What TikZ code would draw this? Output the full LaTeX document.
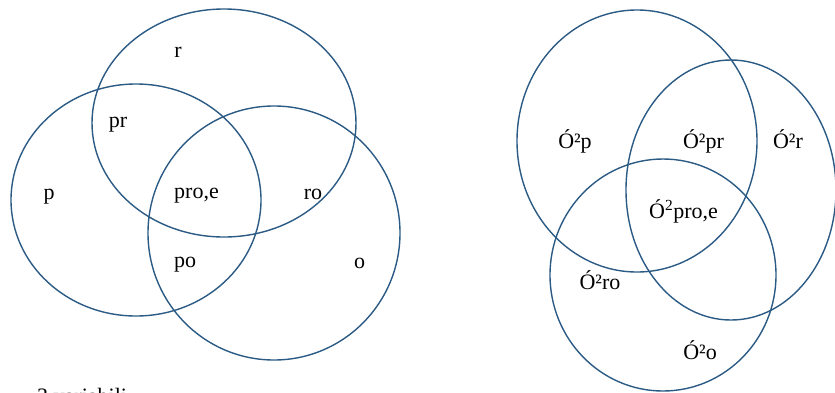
\documentclass[tikz,border=0pt]{standalone}
\usepackage{fontspec}
\setmainfont{Liberation Serif}
\definecolor{vennblue}{HTML}{2B5A84}
\begin{document}
\begin{tikzpicture}[x=1pt,y=-1pt,
  venn/.style={draw=vennblue,line width=1.4pt},
  lbl/.style={font=\fontsize{22}{24}\selectfont,inner sep=0pt,text=black,anchor=base}]
\useasboundingbox (0,0) rectangle (835,392);
% left diagram
\draw[venn] (224,123) ellipse [x radius=132pt,y radius=114pt];
\draw[venn] (136,200) ellipse [x radius=125pt,y radius=116pt];
\draw[venn] (274,233) ellipse [x radius=126pt,y radius=127pt];
\node[lbl] (r) at (178,57) {r};
\node[lbl] (pr) at (118,127) {pr};
\node[lbl] (p) at (49,199) {p};
\node[lbl] (proe) at (196.5,198) {pro,e};
\node[lbl] (ro) at (313,199) {ro};
\node[lbl] (po) at (185,267) {po};
\node[lbl] (o) at (359.5,268) {o};
\node[lbl,anchor=base west] (cap) at (37,403.5) {3 variabili};
% right diagram
\draw[venn] (637,141) ellipse [x radius=120pt,y radius=131pt];
\draw[venn] (731,190) ellipse [x radius=105pt,y radius=130pt];
\draw[venn] (663,275) ellipse [x radius=113pt,y radius=116pt];
\node[lbl] (Op) at (575,148) {Ó²p};
\node[lbl] (Opr) at (703.5,148) {Ó²pr};
\node[lbl] (Or) at (788,148) {Ó²r};
\node[lbl] (Oproe) at (683.5,218) {Ó\textsuperscript{2}pro,e};
\node[lbl] (Oro) at (600,289) {Ó²ro};
\node[lbl] (Oo) at (700,359) {Ó²o};
\end{tikzpicture}
\end{document}
